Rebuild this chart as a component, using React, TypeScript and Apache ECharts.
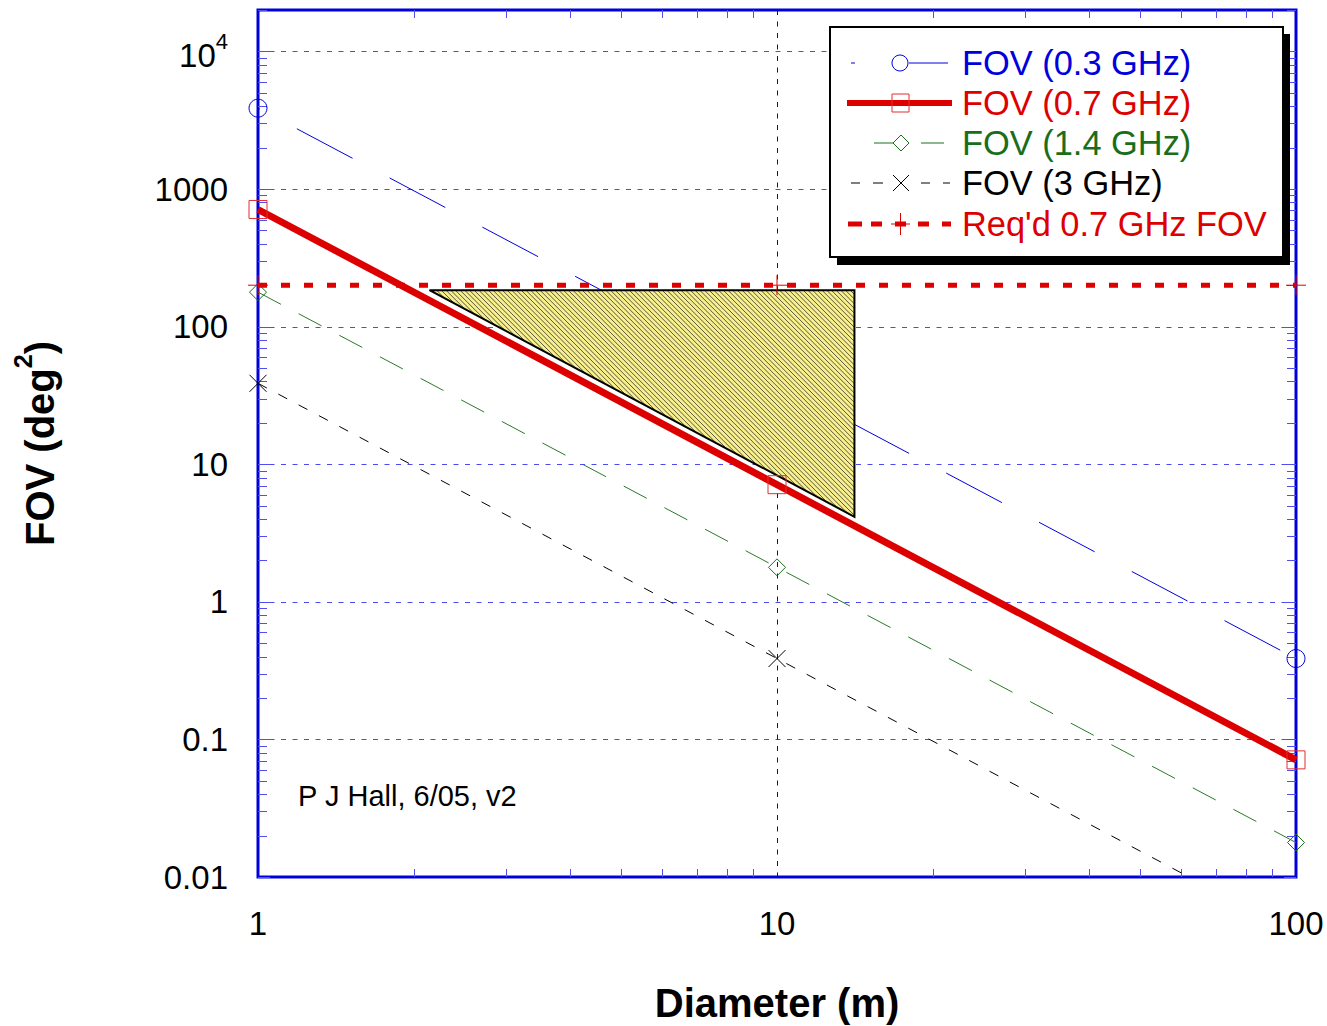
import React, { useEffect, useRef } from 'react';
import * as echarts from 'echarts';

const FONT = "'Liberation Sans', Arial, sans-serif";

const diameters = [1, 10, 100];
const fov03 = [3870, 38.7, 0.387];
const fov07 = [710, 7.1, 0.071];
const fov14 = [178, 1.78, 0.0178];
const fov3 = [38.7, 0.387, 0.00387];
const reqFov = [200, 200, 200];
const hatchX = [2.14, 14.1, 14.1];
const hatchY = [184, 184, 4.15];
const xTickLabels = ['1', '10', '100'];
const yTickLabels = ['0.01', '0.1', '1', '10', '100', '1000', '{n|10}{sup|4}'];
const seriesNames = ['FOV (0.3 GHz)', 'FOV (0.7 GHz)', 'FOV (1.4 GHz)', 'FOV (3 GHz)', "Req'd 0.7 GHz FOV"];
const seriesColors = ['#0000dd', '#dd0000', '#1a6e1a', '#000000', '#dd0000'];
const xAxisTitle = 'Diameter (m)';
const noteText = 'P J Hall, 6/05, v2';

const pairs = (ys: number[]) => diameters.map((d, i) => [d, ys[i]]);

// axis tick positions (major decades and 2..9 minors)
const yTicks: number[][] = [];
const yGrid: number[][] = [];
for (let e = -2; e <= 4; e++) {
  const d = Math.pow(10, e);
  yTicks.push([1, d, 1]);
  if (e > -2) yGrid.push([1, d]);
  for (let m = 2; m <= 9; m++) {
    const v = m * d;
    if (v <= 20000) yTicks.push([1, v, 0]);
  }
}
const xTicks: number[][] = [];
for (let e = 0; e <= 1; e++) {
  for (let m = 2; m <= 9; m++) xTicks.push([m * Math.pow(10, e), 1, 0]);
}
const xGrid: number[][] = [[10, 1]];

const TICK_COLOR = '#5050f0';
const HGRID_COLOR = '#4a4af5';
const VGRID_COLOR = '#0000f0';

export default function App() {
  const ref = useRef<HTMLDivElement>(null);
  useEffect(() => {
    if (!ref.current) return;
    const chart = echarts.init(ref.current, null, { renderer: 'svg' });

    const lineSeries = (name: string, ys: number[], color: string, opts: any) => ({
      type: 'line',
      name,
      data: pairs(ys),
      silent: true,
      clip: true,
      animation: false,
      showSymbol: true,
      symbol: opts.symbol,
      symbolSize: opts.symbolSize || 18,
      z: opts.z,
      lineStyle: { color, width: opts.width, type: opts.dash || 'solid', dashOffset: opts.dashOffset || 0 },
      itemStyle: { color: 'rgba(0,0,0,0)', borderColor: opts.markerColor || color, borderWidth: 1 },
      emphasis: { disabled: true },
    });

    const hatchRender = (params: any, api: any) => {
      const pts = hatchX.map((x, i) => api.coord([x, hatchY[i]]));
      const children: any[] = [
        { type: 'polygon', shape: { points: pts }, style: { fill: '#f8f08e', stroke: 'none' } },
      ];
      const cs = pts.map((p: number[]) => p[0] - p[1]);
      const minC = Math.min(...cs);
      const maxC = Math.max(...cs);
      const step = 4.7;
      for (let c = minC + step / 2; c < maxC; c += step) {
        const hits: number[][] = [];
        for (let i = 0; i < pts.length; i++) {
          const a = pts[i];
          const b = pts[(i + 1) % pts.length];
          const fa = a[0] - a[1] - c;
          const fb = b[0] - b[1] - c;
          if (fa === fb) continue;
          if (fa * fb <= 0) {
            const s = fa / (fa - fb);
            hits.push([a[0] + s * (b[0] - a[0]), a[1] + s * (b[1] - a[1])]);
          }
        }
        if (hits.length >= 2) {
          hits.sort((p, q) => p[0] - q[0]);
          const p1 = hits[0];
          const p2 = hits[hits.length - 1];
          children.push({
            type: 'line',
            shape: { x1: p1[0], y1: p1[1], x2: p2[0], y2: p2[1] },
            style: { stroke: '#222', lineWidth: 0.75 },
          });
        }
      }
      children.push({ type: 'polygon', shape: { points: pts }, style: { fill: 'none', stroke: '#000', lineWidth: 2 } });
      return { type: 'group', children };
    };

    const yTickRender = (params: any, api: any) => {
      const p = api.coord([api.value(0), api.value(1)]);
      const cs = params.coordSys;
      const len = api.value(2) ? 12 : 9;
      const y = Math.round(p[1]) + 0.5;
      return {
        type: 'group',
        children: [
          { type: 'line', shape: { x1: cs.x, y1: y, x2: cs.x + len, y2: y }, style: { stroke: TICK_COLOR, lineWidth: 1 } },
          { type: 'line', shape: { x1: cs.x + cs.width - len, y1: y, x2: cs.x + cs.width, y2: y }, style: { stroke: TICK_COLOR, lineWidth: 1 } },
        ],
      };
    };

    const xTickRender = (params: any, api: any) => {
      const p = api.coord([api.value(0), api.value(1)]);
      const cs = params.coordSys;
      const len = 8;
      const x = Math.round(p[0]) + 0.5;
      return {
        type: 'group',
        children: [
          { type: 'line', shape: { x1: x, y1: cs.y, x2: x, y2: cs.y + len }, style: { stroke: TICK_COLOR, lineWidth: 1 } },
          { type: 'line', shape: { x1: x, y1: cs.y + cs.height - len, x2: x, y2: cs.y + cs.height }, style: { stroke: TICK_COLOR, lineWidth: 1 } },
        ],
      };
    };

    const yGridRender = (params: any, api: any) => {
      const p = api.coord([api.value(0), api.value(1)]);
      const cs = params.coordSys;
      const y = Math.round(p[1]) + 0.5;
      return {
        type: 'line',
        shape: { x1: cs.x, y1: y, x2: cs.x + cs.width, y2: y },
        style: { stroke: HGRID_COLOR, lineWidth: 1, lineDash: [5, 6.5] },
      };
    };

    const xGridRender = (params: any, api: any) => {
      const p = api.coord([api.value(0), api.value(1)]);
      const cs = params.coordSys;
      const x = Math.round(p[0]) + 0.5;
      return {
        type: 'line',
        shape: { x1: x, y1: cs.y, x2: x, y2: cs.y + cs.height },
        style: { stroke: VGRID_COLOR, lineWidth: 1, lineDash: [5, 6.5] },
      };
    };

    const decadeIndex = (v: number, offset: number, labels: string[]) => {
      const l = Math.log10(v);
      const e = Math.round(l);
      if (Math.abs(l - e) > 1e-6) return '';
      return labels[e + offset] ?? '';
    };

    const LY = [63, 103, 143, 183, 224];
    const seg = (x1: number, x2: number, y: number, color: string, w: number) => ({
      type: 'line', z: 102, shape: { x1, y1: y, x2, y2: y }, style: { stroke: color, lineWidth: w },
    });
    const legend: any[] = [
      { type: 'rect', z: 100, shape: { x: 837, y: 34, width: 453, height: 231 }, style: { fill: '#000' } },
      { type: 'rect', z: 101, shape: { x: 830, y: 27, width: 453, height: 230 }, style: { fill: '#fff', stroke: '#000', lineWidth: 2 } },
      // 0.3 GHz
      seg(851, 855, LY[0], seriesColors[0], 1),
      { type: 'circle', z: 102, shape: { cx: 900, cy: LY[0], r: 8 }, style: { fill: 'none', stroke: seriesColors[0], lineWidth: 1 } },
      seg(909, 948, LY[0], seriesColors[0], 1),
      // 0.7 GHz
      seg(847, 952, LY[1], seriesColors[1], 6),
      { type: 'rect', z: 103, shape: { x: 892, y: LY[1] - 9, width: 17, height: 18 }, style: { fill: 'none', stroke: '#e03030', lineWidth: 1 } },
      // 1.4 GHz
      seg(874, 893, LY[2], seriesColors[2], 1),
      { type: 'polygon', z: 102, shape: { points: [[901, LY[2] - 8], [909, LY[2]], [901, LY[2] + 8], [893, LY[2]]] }, style: { fill: 'none', stroke: seriesColors[2], lineWidth: 1 } },
      seg(921, 944, LY[2], seriesColors[2], 1),
      // 3 GHz
      seg(851, 860, LY[3], '#000', 1),
      seg(873, 883, LY[3], '#000', 1),
      { type: 'line', z: 102, shape: { x1: 893, y1: LY[3] - 8, x2: 909, y2: LY[3] + 8 }, style: { stroke: '#000', lineWidth: 1 } },
      { type: 'line', z: 102, shape: { x1: 893, y1: LY[3] + 8, x2: 909, y2: LY[3] - 8 }, style: { stroke: '#000', lineWidth: 1 } },
      seg(921, 930, LY[3], '#000', 1),
      seg(943, 950, LY[3], '#000', 1),
      // Req'd
      seg(848, 862, LY[4], seriesColors[4], 5),
      seg(871, 882, LY[4], seriesColors[4], 5),
      seg(895, 906, LY[4], seriesColors[4], 5),
      seg(891, 910, LY[4], seriesColors[4], 1),
      { type: 'line', z: 102, shape: { x1: 900.5, y1: LY[4] - 11, x2: 900.5, y2: LY[4] + 11 }, style: { stroke: seriesColors[4], lineWidth: 1 } },
      seg(918, 929, LY[4], seriesColors[4], 5),
      seg(942, 951, LY[4], seriesColors[4], 5),
    ];
    seriesNames.forEach((n, i) => {
      legend.push({
        type: 'text', z: 102, x: 962, y: LY[i],
        style: { text: n, fontSize: 34.4, fontFamily: FONT, fill: seriesColors[i], align: 'left', verticalAlign: 'middle', textAlign: 'left', textVerticalAlign: 'middle' },
      });
    });
    legend.push({
      type: 'text', z: 90, x: 298, y: 796,
      style: { text: noteText, fontSize: 29, fontFamily: FONT, fill: '#000', align: 'left', verticalAlign: 'middle', textAlign: 'left', textVerticalAlign: 'middle' },
    });

    const option: any = {
      animation: false,
      textStyle: { fontFamily: FONT },
      grid: {
        left: 258, right: 31, top: 10, bottom: 149,
        show: true, borderColor: '#0000dd', borderWidth: 3, backgroundColor: 'transparent',
        containLabel: false, outerBoundsMode: 'none',
      },
      xAxis: {
        type: 'log', logBase: 10, min: 1, max: 100,
        name: xAxisTitle, nameLocation: 'middle', nameGap: 106,
        nameTextStyle: { fontSize: 40, fontWeight: 'bold', color: '#000', fontFamily: FONT },
        axisLine: { show: false },
        axisTick: { show: false },
        minorTick: { show: false },
        axisLabel: {
          fontSize: 33, color: '#000', margin: 30, fontFamily: FONT,
          formatter: (v: number) => decadeIndex(v, 0, xTickLabels),
        },
        splitLine: { show: false },
      },
      yAxis: {
        type: 'log', logBase: 10, min: 0.01, max: 20000,
        name: '{b|FOV (deg}{s|2}{b|)}', nameLocation: 'middle', nameGap: 198,
        nameTextStyle: {
          rich: {
            b: { fontSize: 40, fontWeight: 'bold', lineHeight: 40, verticalAlign: 'bottom', color: '#000', fontFamily: FONT },
            s: { fontSize: 25, fontWeight: 'bold', lineHeight: 50, verticalAlign: 'top', color: '#000', fontFamily: FONT },
          },
        },
        axisLine: { show: false },
        axisTick: { show: false },
        minorTick: { show: false },
        axisLabel: {
          fontSize: 33, color: '#000', margin: 30, fontFamily: FONT,
          formatter: (v: number) => decadeIndex(v, 2, yTickLabels),
          rich: {
            n: { fontSize: 33, lineHeight: 33, verticalAlign: 'bottom', color: '#000', fontFamily: FONT },
            sup: { fontSize: 22, lineHeight: 41, verticalAlign: 'top', color: '#000', fontFamily: FONT },
          },
        },
        splitLine: { show: false },
      },
      graphic: { elements: legend },
      series: [
        { type: 'custom', silent: true, z: 1, renderItem: yGridRender, data: yGrid, clip: false },
        { type: 'custom', silent: true, z: 1, renderItem: xGridRender, data: xGrid, clip: false },
        { type: 'custom', silent: true, z: 1, renderItem: yTickRender, data: yTicks, clip: false },
        { type: 'custom', silent: true, z: 1, renderItem: xTickRender, data: xTicks, clip: false },
        lineSeries(seriesNames[0], fov03, seriesColors[0], { symbol: 'circle', width: 1, dash: [63, 42], dashOffset: 61, z: 2 }),
        lineSeries(seriesNames[2], fov14, '#2a7a2a', { symbol: 'diamond', symbolSize: 17, width: 1, dash: [26, 20], z: 2, markerColor: seriesColors[2] }),
        lineSeries(seriesNames[3], fov3, '#000', { symbol: 'path://M0,0L10,10M10,0L0,10', symbolSize: 17, width: 1, dash: [10, 13], z: 2 }),
        { type: 'custom', silent: true, z: 3, renderItem: hatchRender, data: [[hatchX[0], hatchY[0]]], clip: false },
        lineSeries(seriesNames[1], fov07, seriesColors[1], { symbol: 'rect', width: 7, z: 4, markerColor: '#e03030' }),
        lineSeries(seriesNames[4], reqFov, seriesColors[4], { symbol: 'path://M5,0L5,10M0,5L10,5', symbolSize: 20, width: 5, dash: [9, 14], z: 5 }),
      ],
    };
    chart.setOption(option);
    return () => chart.dispose();
  }, []);
  return <div ref={ref} style={{ position: 'fixed', left: 0, top: 0, width: 1327, height: 1026, background: '#fff' }} />;
}
